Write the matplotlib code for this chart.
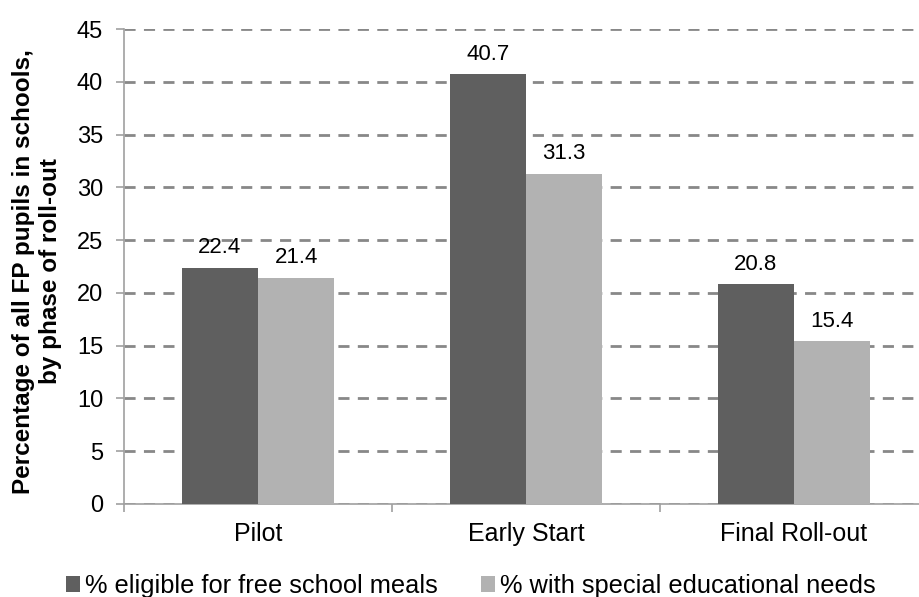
import matplotlib
matplotlib.use("Agg")
import matplotlib.pyplot as plt
import numpy as np

plt.rcParams['font.family'] = ['Liberation Sans', 'DejaVu Sans']

categories = ["Pilot", "Early Start", "Final Roll-out"]
fsm = [22.4, 40.7, 20.8]
sen = [21.4, 31.3, 15.4]
series_names = ["% eligible for free school meals", "% with special educational needs"]
yticks = [0, 5, 10, 15, 20, 25, 30, 35, 40, 45]

fig = plt.figure(figsize=(9.19, 5.97), dpi=100)
ax = fig.add_axes([124/919, 1-504/597, 804/919, 475/597])

x = np.arange(len(categories))
w = 0.285
b1 = ax.bar(x - w/2, fsm, w, color="#5f5f5f", zorder=3, label=series_names[0])
b2 = ax.bar(x + w/2, sen, w, color="#b2b2b2", zorder=3, label=series_names[1])

for rect, v in zip(list(b1) + list(b2), fsm + sen):
    ax.text(rect.get_x() + rect.get_width()/2, v + 1.4, f"{v:.1f}",
            ha="center", va="baseline", fontsize=16)

ax.set_xlim(-0.5, 2.5)
ax.set_ylim(0, 45)
ax.set_yticks(yticks)
ax.set_yticklabels([str(t) for t in yticks], fontsize=17)
ax.set_xticks(x)
ax.set_xticklabels(categories, fontsize=18)
ax.set_xticks([-0.5, 0.5, 1.5, 2.5], minor=True)
ax.tick_params(axis='x', which='major', length=0, pad=13)
ax.tick_params(axis='x', which='minor', length=6, color="#a0a0a0", width=1.2)
ax.tick_params(axis='y', length=6, color="#a0a0a0", width=1.2, pad=9)

ax.yaxis.grid(True, linestyle=(0, (4, 3)), color="#888888", linewidth=2, zorder=0)
for s in ["top", "right"]:
    ax.spines[s].set_visible(False)
for s in ["left", "bottom"]:
    ax.spines[s].set_color("#a0a0a0")
    ax.spines[s].set_linewidth(1.2)

ax.set_ylabel("Percentage of all FP pupils in schools,\nby phase of roll-out", fontsize=17.5,
              fontweight="bold", linespacing=1.2)
ax.yaxis.set_label_coords((62 - 124) / 804, 0.49)

fig.legend(handles=[b1, b2], labels=series_names, loc="center", bbox_to_anchor=(0.512, 1-586/597),
           ncol=2, frameon=False, fontsize=18.3, handlelength=0.55, handleheight=0.55,
           handletextpad=0.2, columnspacing=1.7, borderaxespad=0, borderpad=0)

fig.savefig("out.png", dpi=100)
